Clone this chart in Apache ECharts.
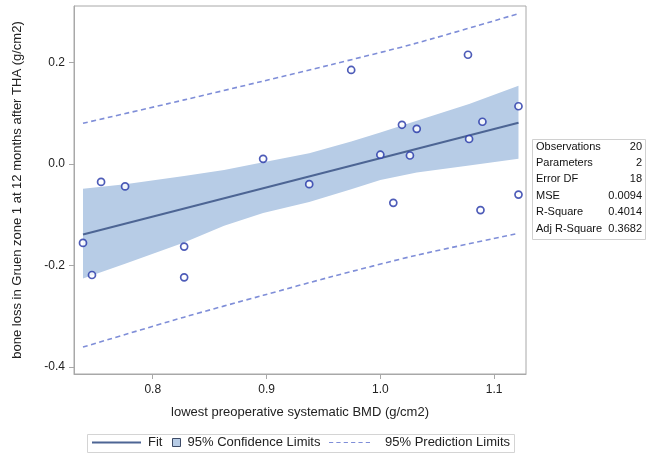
<!DOCTYPE html>
<html>
<head>
<meta charset="utf-8">
<script src="https://cdn.jsdelivr.net/npm/echarts@6/dist/echarts.min.js"></script>
<style>
html,body{margin:0;padding:0;background:#fff;}
#chart{width:654px;height:454px;}
</style>
</head>
<body>
<div id="chart"></div>
<script>
// ---- data ----
var bmd = [0.7387,0.7466,0.7546,0.7757,0.8276,0.8276,0.897,0.9375,0.9744,1.000,1.0114,1.019,1.026,1.032,1.077,1.078,1.0897,1.088,1.1214,1.1214];
var boneLoss = [-0.1557,-0.2190,-0.0355,-0.0445,-0.1630,-0.2235,0.0099,-0.0400,0.1850,0.0180,-0.0768,0.0770,0.0165,0.0690,0.2150,0.0490,0.0830,-0.0910,0.1135,-0.0605];

var fitX = [0.7387, 1.1214];
var fitY = [-0.139, 0.081];

var bandX     = [0.7387,0.7757,0.8276,0.8627,0.897,0.9375,0.9744,1.000,1.032,1.078,1.1214];
var bandUpper = [-0.049,-0.040,-0.024,-0.012,0.003,0.021,0.044,0.062,0.085,0.118,0.154];
var bandLower = [-0.226,-0.197,-0.155,-0.122,-0.097,-0.075,-0.050,-0.032,-0.017,-0.003,0.010];

var predX     = [0.7387,0.8276,0.897,0.956,1.032,1.1214];
var predUpper = [0.080,0.126,0.163,0.195,0.238,0.296];
var predLower = [-0.361,-0.302,-0.259,-0.223,-0.180,-0.137];

var xTicks = [0.8,0.9,1.0,1.1];
var yTicks = [-0.4,-0.2,0.0,0.2];

var statLabels = ['Observations','Parameters','Error DF','MSE','R-Square','Adj R-Square'];
var statValues = ['20','2','18','0.0094','0.4014','0.3682'];

// ---- chart ----
var FONT = '"Liberation Sans", Arial, sans-serif';
var chart = echarts.init(document.getElementById('chart'), null, {renderer:'canvas'});

function pairs(xs, ys){ return xs.map(function(x,i){ return [x, ys[i]]; }); }

var bandData = bandX.map(function(x,i){ return [x, bandLower[i], bandUpper[i]]; });

var FIT_COLOR = '#4d6594';
var PRED_COLOR = '#7f8ed8';
var BAND_COLOR = '#b7cce6';

var statGraphics = [];
statGraphics.push({type:'rect', shape:{x:532.5, y:139.5, width:113, height:100},
  style:{fill:'#fff', stroke:'#d0d0d0', lineWidth:1}});
statLabels.forEach(function(l,i){
  statGraphics.push({type:'text', x:536, y:146.5+i*16.4,
    style:{text:l, font:'11px ' + FONT, fill:'#111', textVerticalAlign:'middle', textAlign:'left'}});
  statGraphics.push({type:'text', x:642, y:146.5+i*16.4,
    style:{text:statValues[i], font:'11px ' + FONT, fill:'#111', textVerticalAlign:'middle', textAlign:'right'}});
});
statGraphics.push({type:'rect', shape:{x:87.5, y:434.5, width:427, height:18},
  style:{fill:'none', stroke:'#d4d4d4', lineWidth:1}, z:-1});

var dashIcon = 'path://M0,0H4V1H0Z M7,0H11V1H7Z M14,0H18V1H14Z M21,0H25V1H21Z M28,0H32V1H28Z M35,0H39V1H35Z';

var option = {
  backgroundColor:'#fff',
  animation:false,
  grid:{left:74, top:6, right:128, bottom:80, show:true, borderColor:'#a8a8a8', borderWidth:1, containLabel:false},
  xAxis:{
    type:'value', min:0.7308, max:1.128,
    name:'lowest preoperative systematic BMD (g/cm2)', nameLocation:'middle', nameGap:32,
    nameTextStyle:{fontFamily:FONT, fontSize:13, color:'#222'},
    axisLine:{show:true, onZero:false, lineStyle:{color:'#a8a8a8'}},
    axisTick:{show:true, length:5, customValues:xTicks, lineStyle:{color:'#a8a8a8'}},
    axisLabel:{customValues:xTicks, margin:10, fontFamily:FONT, fontSize:12, color:'#222',
      formatter:function(v){ return v.toFixed(1); }},
    splitLine:{show:false}
  },
  yAxis:{
    type:'value', min:-0.414, max:0.311,
    name:'bone loss in Gruen zone 1 at 12 months after THA (g/cm2)', nameLocation:'middle', nameGap:50,
    nameTextStyle:{fontFamily:FONT, fontSize:13, color:'#222'},
    axisLine:{show:true, onZero:false, lineStyle:{color:'#a8a8a8'}},
    axisTick:{show:true, length:5, customValues:yTicks, lineStyle:{color:'#a8a8a8'}},
    axisLabel:{customValues:yTicks, margin:9, fontFamily:FONT, fontSize:12, color:'#222',
      formatter:function(v){ return v.toFixed(1); }},
    splitLine:{show:false}
  },
  legend:[
    {left:92, top:436, padding:0, itemWidth:49, itemHeight:2, selectedMode:false,
      textStyle:{fontFamily:FONT, fontSize:13, color:'#222', padding:[0,0,0,2]},
      data:[{name:'Fit', icon:'rect', itemStyle:{color:FIT_COLOR, borderWidth:0}}]},
    {left:172, top:436, padding:0, itemWidth:8, itemHeight:8, selectedMode:false,
      textStyle:{fontFamily:FONT, fontSize:13, color:'#222', padding:[0,0,0,2]},
      data:[{name:'95% Confidence Limits', icon:'rect',
        itemStyle:{color:BAND_COLOR, borderColor:'#3d4a66', borderWidth:1}}]},
    {left:329, top:436, padding:0, itemWidth:41, itemHeight:1.6, selectedMode:false,
      textStyle:{fontFamily:FONT, fontSize:13, color:'#222', padding:[0,0,0,10]},
      data:[{name:'95% Prediction Limits', icon:dashIcon, itemStyle:{color:PRED_COLOR, borderWidth:0}}]}
  ],
  graphic: statGraphics,
  series:[
    {
      name:'95% Confidence Limits', type:'custom', z:1,
      data: bandData,
      encode:{x:0, y:[1,2]},
      renderItem:function(params, api){
        if (params.dataIndex !== 0) return null;
        var pts = [];
        for (var i=0;i<bandData.length;i++) pts.push(api.coord([bandData[i][0], bandData[i][2]]));
        for (var j=bandData.length-1;j>=0;j--) pts.push(api.coord([bandData[j][0], bandData[j][1]]));
        return {type:'polygon', shape:{points:pts}, style:{fill:BAND_COLOR}};
      },
      itemStyle:{color:BAND_COLOR}
    },
    {
      name:'Fit', type:'line', z:3, symbol:'none', data:pairs(fitX, fitY),
      lineStyle:{color:FIT_COLOR, width:2}, itemStyle:{color:FIT_COLOR}
    },
    {
      name:'95% Prediction Limits', type:'line', z:3, symbol:'none', smooth:0.3,
      data:pairs(predX, predUpper),
      lineStyle:{color:PRED_COLOR, width:1.6, type:[5,3.5]}, itemStyle:{color:PRED_COLOR}
    },
    {
      name:'95% Prediction Limits', type:'line', z:3, symbol:'none', smooth:0.3,
      data:pairs(predX, predLower),
      lineStyle:{color:PRED_COLOR, width:1.6, type:[5,3.5]}, itemStyle:{color:PRED_COLOR}
    },
    {
      name:'Observed', type:'scatter', z:5, symbol:'circle', symbolSize:7,
      data:pairs(bmd, boneLoss),
      itemStyle:{color:'#ffffff', borderColor:'#2233a6', borderWidth:1.7}
    }
  ]
};
chart.setOption(option);
</script>
</body>
</html>
